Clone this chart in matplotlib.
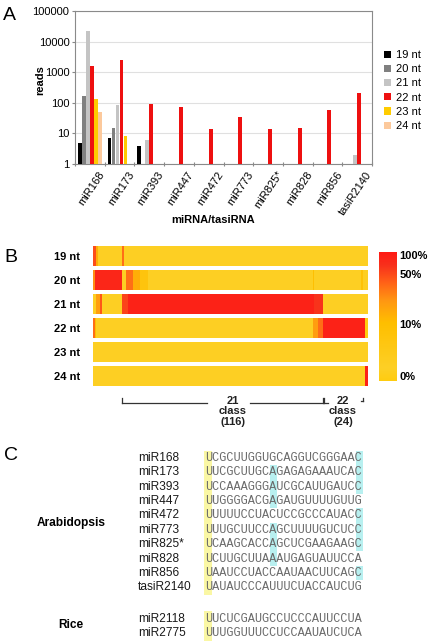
import numpy as np
import matplotlib
matplotlib.use('Agg')
import matplotlib.pyplot as plt
from matplotlib.colors import LinearSegmentedColormap, FuncNorm
from matplotlib.patches import Rectangle
from matplotlib.ticker import NullLocator

plt.rcParams['font.family'] = ['Liberation Sans', 'DejaVu Sans']

nan = np.nan
# ---------------- Panel A data ----------------
groups = ['miR168', 'miR173', 'miR393', 'miR447', 'miR472', 'miR773',
          'miR825*', 'miR828', 'miR856', 'tasiR2140']
nt_labels = ['19 nt', '20 nt', '21 nt', '22 nt', '23 nt', '24 nt']
reads_19 = [5, 7, 4, nan, nan, nan, nan, nan, nan, nan]
reads_20 = [170, 15, nan, nan, nan, nan, nan, nan, nan, nan]
reads_21 = [23000, 85, 6, nan, nan, nan, nan, nan, nan, 2]
reads_22 = [1600, 2600, 93, 71, 14, 35, 14, 15, 57, 204]
reads_23 = [133, 8, nan, nan, nan, nan, nan, nan, nan, nan]
reads_24 = [49, nan, nan, nan, nan, nan, nan, nan, nan, nan]
nt_colors = ['#000000', '#808080', '#c4c4c4', '#ee1010', '#ffcc00', '#fcc99c']
y_ticks = [1, 10, 100, 1000, 10000, 100000]

# ---------------- Panel B data (run-length: (columns, percent)) ----------------
hm_rows = ['19 nt', '20 nt', '21 nt', '22 nt', '23 nt', '24 nt']
runs_19 = [(2, 50), (1, 15), (14, 1), (1, 35), (141, 1)]
runs_20 = [(1, 25), (16, 80), (2, 1), (4, 35), (4, 15), (5, 6), (95, 1), (1, 10), (27, 1), (1, 8), (3, 1)]
runs_21 = [(2, 1), (2, 20), (1, 45), (12, 1), (3, 55), (108, 85), (5, 65), (26, 1)]
runs_22 = [(1, 35), (1, 10), (125, 1), (3, 20), (3, 35), (24, 85), (2, 0)]
runs_23 = [(159, 1)]
runs_24 = [(157, 1), (2, 85)]
class_start = 17
class_sizes = [116, 24]
class_names = ['21\nclass\n(116)', '22\nclass\n(24)']
cbar_ticks = [100, 50, 10, 0]

# ---------------- Panel C data ----------------
ara_names = ['miR168', 'miR173', 'miR393', 'miR447', 'miR472', 'miR773',
             'miR825*', 'miR828', 'miR856', 'tasiR2140']
ara_seqs = ['UCGCUUGGUGCAGGUCGGGAAC', 'UUCGCUUGCAGAGAGAAAUCAC', 'UCCAAAGGGAUCGCAUUGAUCC',
            'UUGGGGACGAGAUGUUUUGUUG', 'UUUUUCCUACUCCGCCCAUACC', 'UUUGCUUCCAGCUUUUGUCUCC',
            'UCAAGCACCAGCUCGAAGAAGC', 'UCUUGCUUAAAUGAGUAUUCCA', 'UAAUCCUACCAAUAACUUCAGC',
            'UAUAUCCCAUUUCUACCAUCUG']
rice_names = ['miR2118', 'miR2775']
rice_seqs = ['UUCUCGAUGCCUCCCAUUCCUA', 'UUUGGUUUCCUCCAAUAUCUCA']

W, H = 430, 644
fig = plt.figure(figsize=(W / 100, H / 100), dpi=100)


def fax(l, t, r, b, **kw):
    return fig.add_axes([l / W, 1 - b / H, (r - l) / W, (b - t) / H], **kw)


# ================= Panel A =================
axA = fax(75, 11, 372, 164)
series = [reads_19, reads_20, reads_21, reads_22, reads_23, reads_24]
slot, x0 = 0.135, 0.095
gx = np.arange(len(groups))
for k, (vals, col, lab) in enumerate(zip(series, nt_colors, nt_labels)):
    v = np.array(vals, float)
    m = ~np.isnan(v)
    axA.bar(gx[m] + x0 + k * slot, v[m], width=slot * 0.97, align='edge',
            color=col, label=lab, linewidth=0, zorder=3)
axA.set_yscale('log')
axA.set_ylim(1, 100000)
axA.set_xlim(0, len(groups))
axA.set_yticks(y_ticks)
axA.set_yticklabels([str(t) for t in y_ticks], fontsize=8)
axA.yaxis.set_minor_locator(NullLocator())
axA.grid(axis='y', color='#e0e0e0', lw=0.8, zorder=0)
axA.set_xticks(np.arange(len(groups) + 1))
axA.set_xticklabels([''] * (len(groups) + 1))
axA.set_xticks(gx + 0.78, minor=True)
axA.set_xticklabels(groups, minor=True, rotation=56, ha='right',
                    rotation_mode='anchor', fontsize=8)
axA.tick_params(axis='x', which='minor', length=0, pad=4)
axA.tick_params(axis='x', which='major', length=3, direction='inout', color='#888888')
axA.tick_params(axis='y', length=2, color='#888888', pad=2)
for s in axA.spines.values():
    s.set_color('#8a8a8a')
    s.set_linewidth(0.8)
axA.set_ylabel('reads', fontsize=8, fontweight='bold')
axA.yaxis.set_label_coords(-0.1, 0.55)
fig.text(213 / W, 1 - 220 / H, 'miRNA/tasiRNA', fontsize=8, fontweight='bold',
         ha='center', va='center')
axA.legend(loc='upper left', bbox_to_anchor=(384 / W, 1 - 50 / H),
           bbox_transform=fig.transFigure, frameon=False, fontsize=8,
           handlelength=0.6, handleheight=0.6, handletextpad=0.5,
           labelspacing=0.38, borderpad=0, borderaxespad=0)

# ================= Panel B =================
cmap = LinearSegmentedColormap.from_list('hm', [
    (0.0, '#ffcc10'), (0.1, '#fdd026'), (0.45, '#ffbf00'), (0.62, '#ff9812'),
    (0.78, '#ff5c18'), (0.9, '#f8301c'), (1.0, '#ff1a14')])
A_ = 40.0


def fwd(x):
    return np.log1p(A_ * np.asarray(x) / 100.0) / np.log1p(A_)


def inv(y):
    return np.expm1(np.asarray(y) * np.log1p(A_)) * 100.0 / A_


norm = FuncNorm((fwd, inv), vmin=0, vmax=100)

axB = fax(93, 246, 368, 386)
all_runs = [runs_19, runs_20, runs_21, runs_22, runs_23, runs_24]
ncol = sum(c for c, _ in runs_19)
row_h, row_gap = 20, 4
centers = []
for r, runs in enumerate(all_runs):
    vals = np.repeat([p for _, p in runs], [c for c, _ in runs]).astype(float)
    top = r * (row_h + row_gap)
    axB.imshow(vals[None, :], extent=(0, ncol, top + row_h, top), cmap=cmap,
               norm=norm, aspect='auto', interpolation='nearest')
    centers.append(top + row_h / 2)
axB.set_xlim(0, ncol)
axB.set_ylim(6 * (row_h + row_gap) - row_gap, 0)
axB.set_xticks([])
axB.set_yticks(centers)
axB.set_yticklabels(hm_rows, fontsize=8, fontweight='bold')
axB.tick_params(axis='y', length=0, pad=9)
for s in axB.spines.values():
    s.set_visible(False)

# class brackets
yl, yt = 156.5, 151.5
lc = dict(color='#333333', lw=0.9, clip_on=False)
s21, e21 = class_start, class_start + class_sizes[0]
s22, e22 = e21, e21 + class_sizes[1]
c21, c22 = 81, 144.5
axB.plot([s21, s21], [yt, yl], **lc)
axB.plot([s21, c21 - 15], [yl, yl], **lc)
axB.plot([c21 + 10, e21 - 0.3], [yl, yl], **lc)
axB.plot([e21 - 0.3, e21 - 0.3], [yt, yl], **lc)
axB.plot([s22 + 0.7, s22 + 0.7], [yt, yl], **lc)
axB.plot([s22 + 0.7, s22 + 2.7], [yl, yl], **lc)
axB.plot([e22 - 2, e22 - 0.7], [yl - 1.5, yl - 1.5], **lc)
axB.plot([e22 - 0.7, e22 - 0.7], [yt, yl - 1.5], **lc)
for cx, txt in zip([c21, c22], class_names):
    axB.text(cx, 150, txt, ha='center', va='top', fontsize=8, fontweight='bold',
             linespacing=1.05, color='#222222')

# colorbar
axCB = fax(379, 252, 397, 381)
axCB.imshow(np.linspace(0, 1, 256)[:, None], cmap=cmap, aspect='auto',
            origin='lower', extent=(0, 1, 0, 1), interpolation='bilinear')
axCB.set_axis_off()
for t in cbar_ticks:
    pos = float(fwd(t))
    va = 'top' if t == 100 else ('bottom' if t == 0 else 'center')
    yy = 1.01 if t == 100 else (-0.01 if t == 0 else pos)
    axCB.text(1.12, yy, f'{t}%', transform=axCB.transAxes, ha='left', va=va,
              fontsize=8, fontweight='bold')

# ================= Panel C =================
axC = fig.add_axes([0, 0, 1, 1])
axC.patch.set_alpha(0)
axC.set_xlim(0, W)
axC.set_ylim(H, 0)
axC.set_axis_off()

fs_seq = 8.6
cw = 0.6 * fs_seq * 100 / 72
name_x, seq_x = 138, 205
step = 14.4
ara_y0, rice_y0 = 457.7, 618.5
yellow, cyan = '#faf7a4', '#b8f0f0'


def draw_block(names, seqs, y0, stp):
    ys = [y0 + i * stp for i in range(len(names))]
    axC.add_patch(Rectangle((seq_x - 1, ys[0] - stp / 2), cw + 1,
                            ys[-1] - ys[0] + stp, color=yellow, lw=0, zorder=1))
    for y, nm, sq in zip(ys, names, seqs):
        if sq[9] == 'A':
            axC.add_patch(Rectangle((seq_x + 9 * cw, y - stp / 2), cw, stp,
                                    color=cyan, lw=0, zorder=1))
        if sq[-1] == 'C':
            axC.add_patch(Rectangle((seq_x + (len(sq) - 1) * cw, y - stp / 2), cw, stp,
                                    color=cyan, lw=0, zorder=1))
        axC.text(name_x, y, nm, ha='left', va='center', fontsize=8.6, color='#1a1a1a', zorder=2)
        axC.text(seq_x, y, sq, ha='left', va='center', fontsize=fs_seq,
                 family='Liberation Mono', color='#6a6a6a', zorder=2)
    return ys


ys_a = draw_block(ara_names, ara_seqs, ara_y0, step)
ys_r = draw_block(rice_names, rice_seqs, rice_y0, 14.7)
axC.text(71, 523, 'Arabidopsis', ha='center', va='center', fontsize=8.6, fontweight='bold')
axC.text(71, 625, 'Rice', ha='center', va='center', fontsize=8.6, fontweight='bold')

# panel letters
for lab, (px, py) in zip(['A', 'B', 'C'], [(3, 15), (4, 257), (4, 455)]):
    fig.text(px / W, 1 - py / H, lab, fontsize=14, ha='left', va='center')

fig.savefig('out.png', dpi=100)
